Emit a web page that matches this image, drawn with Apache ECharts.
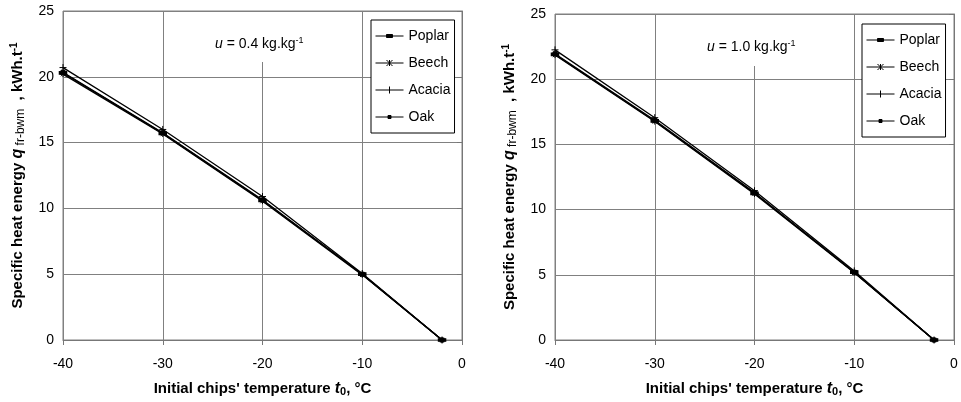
<!DOCTYPE html>
<html><head><meta charset="utf-8">
<script src="https://cdn.jsdelivr.net/npm/echarts@6/dist/echarts.min.js"></script>
<style>html,body{margin:0;padding:0;background:#fff}#c{width:961px;height:402px}</style>
</head><body><div id="c"></div>
<script>
const seriesNames = ['Poplar', 'Beech', 'Acacia', 'Oak'];
const temps = [-40, -30, -20, -10, -2];
// u = 0.4 kg/kg
const leftPoplar = [20.3, 15.7, 10.6, 5.0, 0];
const leftBeech = [20.2, 15.65, 10.55, 4.95, 0];
const leftAcacia = [20.7, 16.0, 10.9, 5.05, 0];
const leftOak = [20.35, 15.75, 10.65, 5.0, 0];
// u = 1.0 kg/kg
const rightPoplar = [21.9, 16.8, 11.25, 5.2, 0];
const rightBeech = [21.85, 16.75, 11.2, 5.15, 0];
const rightAcacia = [22.25, 17.05, 11.45, 5.3, 0];
const rightOak = [21.95, 16.85, 11.3, 5.2, 0];
const xTicks = [-40, -30, -20, -10, 0];
const yTicks = [0, 5, 10, 15, 20, 25];

const FONT = 'Liberation Sans, Arial, sans-serif';
const symbols = {
  Poplar: {symbol: 'rect', symbolSize: [7, 3]},
  Beech: {symbol: 'path://M0,5L10,5M5,0L5,10M1.5,1.5L8.5,8.5M8.5,1.5L1.5,8.5', symbolSize: 6},
  Acacia: {symbol: 'path://M0,5L10,5M5,0L5,10', symbolSize: 7},
  Oak: {symbol: 'rect', symbolSize: 4}
};
const legendIcons = {
  Poplar: 'M0,7L28,7M11,5.5L17,5.5L17,8.5L11,8.5Z',
  Beech: 'M0,7L28,7M14,4L14,10M11,4L17,10M17,4L11,10',
  Acacia: 'M0,7L28,7M14,3.5L14,10.5',
  Oak: 'M0,7L28,7M12.5,5.5L15.5,5.5L15.5,8.5L12.5,8.5Z'
};
const leftData = {Poplar: leftPoplar, Beech: leftBeech, Acacia: leftAcacia, Oak: leftOak};
const rightData = {Poplar: rightPoplar, Beech: rightBeech, Acacia: rightAcacia, Oak: rightOak};

function mk(name, vals, idx) {
  return Object.assign({
    name: name, type: 'line', xAxisIndex: idx, yAxisIndex: idx,
    data: temps.map((t, i) => [t, vals[i]]),
    lineStyle: {color: '#000', width: 1.3},
    itemStyle: {color: '#000', borderColor: '#000', borderWidth: 1},
    showSymbol: true, animation: false, z: 3
  }, symbols[name]);
}

const rich = {
  b: {fontFamily: FONT, fontSize: 15, fontWeight: 'bold', color: '#000'},
  bi: {fontFamily: FONT, fontSize: 16, fontWeight: 'bold', fontStyle: 'italic', color: '#000'},
  sub: {fontFamily: FONT, fontSize: 12, color: '#000', padding: [6, 0, 0, 0]},
  subb: {fontFamily: FONT, fontSize: 11, fontWeight: 'bold', color: '#000', padding: [6, 0, 0, 0]},
  sup: {fontFamily: FONT, fontSize: 10, fontWeight: 'bold', color: '#000', padding: [0, 0, 8, 0]}
};
const yName = '{b|Specific heat energy }{bi|q}{sub| fr-bwm}{b|  , kWh.t}{sup|-1}';
const xName = '{b|Initial chips\' temperature }{bi|t}{subb|0}{b|, °C}';

function xAx(idx) {
  return {
    type: 'value', gridIndex: idx, min: -40, max: 0, interval: 10,
    name: xName, nameLocation: 'middle', nameGap: 40,
    nameTextStyle: {rich: rich},
    axisLine: {show: true, onZero: false, lineStyle: {color: '#777'}},
    axisTick: {show: true, length: 5, lineStyle: {color: '#777'}},
    axisLabel: {fontFamily: FONT, fontSize: 14, color: '#000', margin: 17,
      formatter: v => xTicks.includes(v) ? String(v) : ''},
    splitLine: {show: true, lineStyle: {color: '#808080', width: 1}}
  };
}
function yAx(idx) {
  return {
    type: 'value', gridIndex: idx, min: 0, max: 25, interval: 5,
    name: yName, nameLocation: 'middle', nameGap: 36, nameRotate: 90,
    nameTextStyle: {rich: rich},
    axisLine: {show: true, lineStyle: {color: '#777'}},
    axisTick: {show: true, length: 5, lineStyle: {color: '#777'}},
    axisLabel: {fontFamily: FONT, fontSize: 14, color: '#000', margin: 9,
      formatter: v => yTicks.includes(v) ? String(v) : ''},
    splitLine: {show: true, lineStyle: {color: '#808080', width: 1}}
  };
}
function legend(left, top) {
  return {
    orient: 'vertical', left: left, top: top,
    data: seriesNames.map(n => ({
      name: n, icon: 'path://' + legendIcons[n],
      itemStyle: {color: '#000', borderColor: '#000', borderWidth: 1}
    })),
    backgroundColor: '#fff', borderColor: '#000', borderWidth: 1,
    padding: [9, 4, 9, 4], itemGap: 13, itemWidth: 28, itemHeight: 14,
    textStyle: {fontFamily: FONT, fontSize: 14, color: '#000'},
    selectedMode: false
  };
}
const series = [];
seriesNames.forEach(n => series.push(mk(n, leftData[n], 0)));
seriesNames.forEach(n => series.push(mk(n, rightData[n], 1)));

const annRich = {
  i: {fontFamily: FONT, fontSize: 14, fontStyle: 'italic', fill: '#000'},
  n: {fontFamily: FONT, fontSize: 14, fill: '#000'},
  s: {fontFamily: FONT, fontSize: 9, fill: '#000', padding: [0, 0, 8, 0]}
};

const chart = echarts.init(document.getElementById('c'), null, {renderer: 'canvas'});
chart.setOption({
  animation: false,
  backgroundColor: '#fff',
  grid: [
    {left: 63, right: 499, top: 11, bottom: 62, show: true, borderColor: '#808080', borderWidth: 1},
    {left: 555, right: 7, top: 14, bottom: 62, show: true, borderColor: '#808080', borderWidth: 1}
  ],
  xAxis: [xAx(0), xAx(1)],
  yAxis: [yAx(0), yAx(1)],
  legend: [legend(371, 20), legend(862, 24)],
  series: series,
  graphic: [
    {type: 'rect', left: 206, top: 12, shape: {width: 106, height: 50}, style: {fill: '#fff'}, z: 2},
    {type: 'text', left: 215, top: 36, z: 3, style: {text: '{i|u}{n| = 0.4 kg.kg}{s|-1}', rich: annRich}},
    {type: 'rect', left: 698, top: 15, shape: {width: 106, height: 51}, style: {fill: '#fff'}, z: 2},
    {type: 'text', left: 707, top: 39, z: 3, style: {text: '{i|u}{n| = 1.0 kg.kg}{s|-1}', rich: annRich}}
  ]
});
</script></body></html>
